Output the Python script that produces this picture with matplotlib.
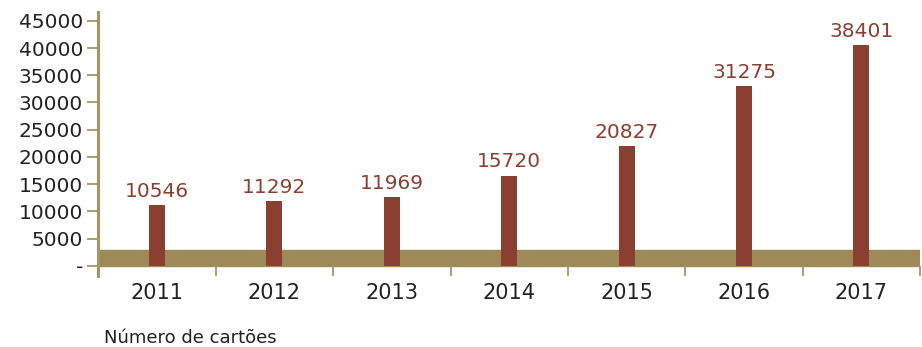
import matplotlib.pyplot as plt

years = ["2011", "2012", "2013", "2014", "2015", "2016", "2017"]
cartoes = [10546, 11292, 11969, 15720, 20827, 31275, 38401]
y_ticks = [0, 5000, 10000, 15000, 20000, 25000, 30000, 35000, 40000, 45000]
y_tick_labels = ["-", "5000", "10000", "15000", "20000", "25000", "30000",
                 "35000", "40000", "45000"]
base_band = 2900

bar_color = "#8B3F30"
band_color = "#9E8A58"
axis_color = "#A89466"
text_color = "#222222"

plt.rcParams['font.family'] = ['DejaVu Sans']

fig = plt.figure(figsize=(9.22, 3.47), dpi=100)
ax = fig.add_axes([0.1066, 0.2046, 0.8914, 0.7608])

x = range(len(years))

# base band behind the bars
ax.axhspan(0, base_band, color=band_color, zorder=1)
ax.set_xlim(-0.5, len(years) - 0.5)
ax.set_ylim(-1890, 46620)

ax.set_yticks(y_ticks)
ax.set_yticklabels(y_tick_labels, fontsize=14.5, color=text_color)
ax.tick_params(axis='y', length=8, width=1.3, color=axis_color, pad=3)

# category separators as inward ticks at the bottom
ax.set_xticks([i + 0.5 for i in x])
ax.set_xticklabels([])
ax.tick_params(axis='x', direction='in', length=7.3, width=1.3, color=axis_color)

for s in ["top", "right", "bottom"]:
    ax.spines[s].set_visible(False)
ax.spines["left"].set_color(axis_color)
ax.spines["left"].set_linewidth(2.2)

for i, yr in enumerate(years):
    ax.text(i, -0.065, yr, transform=ax.get_xaxis_transform(),
            ha="center", va="center", fontsize=15, color=text_color)

# bars sit on their own scale
bx = ax.twinx()
bx.set_ylim(-1793, 44230)
bx.axis("off")
bx.bar(x, cartoes, width=0.137, color=bar_color, zorder=3)
for i, v in enumerate(cartoes):
    bx.annotate(str(v), (i, v), xytext=(0, 6), textcoords="offset points",
                ha="center", va="baseline", fontsize=14.5, color=bar_color)

fig.text(104 / 922, 1 - 338 / 347, "Número de cartões", ha="left", va="center",
         fontsize=13, color=text_color)

fig.savefig("out.png", dpi=100)
